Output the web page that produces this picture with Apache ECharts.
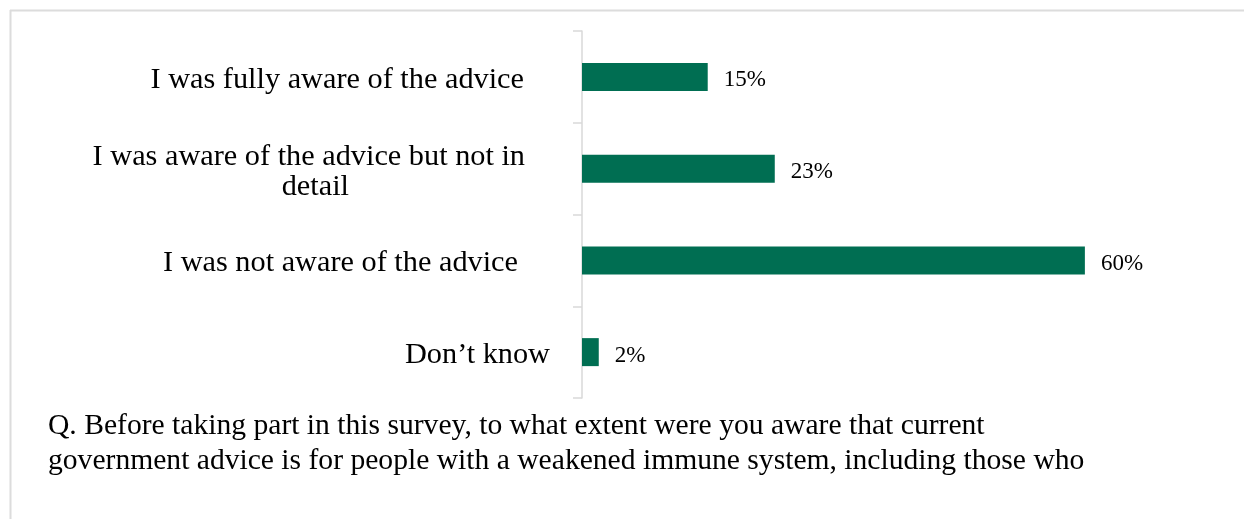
<!DOCTYPE html>
<html>
<head>
<meta charset="utf-8">
<script src="https://cdn.jsdelivr.net/npm/echarts@6/dist/echarts.min.js"></script>
<style>
html,body{margin:0;padding:0;background:#fff;}
#chart{width:1244px;height:519px;}
</style>
</head>
<body>
<div id="chart"></div>
<script>
const categories = [
  "I was fully aware of the advice",
  "I was aware of the advice but not in\ndetail",
  "I was not aware of the advice",
  "Don\u2019t know"
];
const values = [15, 23, 60, 2];
const question = [
  "Q. Before taking part in this survey, to what extent were you aware that current",
  "government advice is for people with a weakened immune system, including those who"
];

const FONT = "'Liberation Serif', 'Times New Roman', serif";
// right padding per category label line (label index -> per line)
const labelPad = [[48], [47, 223], [54], [22]];

const chart = echarts.init(document.getElementById('chart'));
const rich = {};
labelPad.forEach((pads, i) => {
  pads.forEach((p, j) => {
    rich['c' + i + '_' + j] = {
      fontFamily: FONT, fontSize: 30.3, color: '#000', lineHeight: 30,
      padding: [6, p, 0, 0]
    };
  });
});

chart.setOption({
  animation: false,
  backgroundColor: '#fff',
  title: {
    text: question.join('\n'),
    left: 48,
    top: 409,
    padding: 0,
    textStyle: { fontFamily: FONT, fontSize: 29.6, fontWeight: 'normal', color: '#000', lineHeight: 35 }
  },
  grid: { left: 582, top: 31, bottom: 121, right: 75.3, containLabel: false },
  xAxis: { type: 'value', min: 0, max: 70, show: false },
  yAxis: {
    type: 'category',
    inverse: true,
    data: categories,
    axisLine: { show: true, lineStyle: { color: '#d9d9d9', width: 1.5 } },
    axisTick: { show: true, length: 9, lineStyle: { color: '#d9d9d9', width: 1.5 } },
    axisLabel: {
      margin: 10,
      align: 'right',
      formatter: (v, i) => v.split('\n').map((line, j) => '{c' + i + '_' + j + '|' + line + '}').join('\n'),
      rich: rich
    }
  },
  series: [{
    type: 'bar',
    data: values,
    barWidth: 28,
    itemStyle: { color: '#006e52' },
    label: {
      show: true, position: 'right', distance: 16,
      offset: [0, 3.5],
      formatter: '{c}%',
      fontFamily: FONT, fontSize: 23, color: '#000'
    }
  }],
  graphic: [
    { type: 'line', shape: { x1: 10, y1: 10.5, x2: 1244, y2: 10.5 }, style: { stroke: '#dcdcdc', lineWidth: 2 } },
    { type: 'line', shape: { x1: 10.5, y1: 10, x2: 10.5, y2: 519 }, style: { stroke: '#dcdcdc', lineWidth: 2 } }
  ]
});
</script>
</body>
</html>
